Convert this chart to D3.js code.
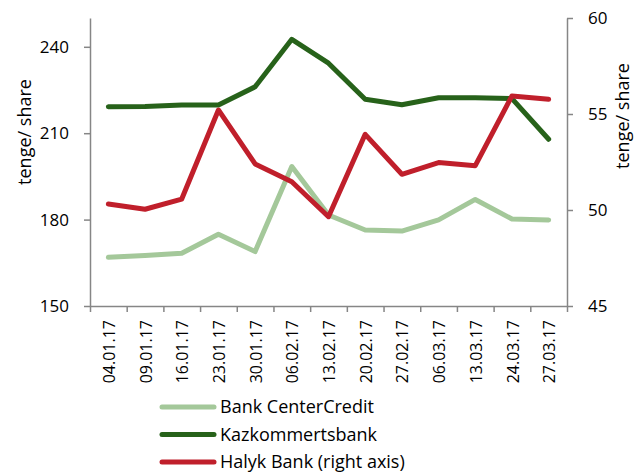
<!DOCTYPE html>
<html>
<head>
<meta charset="utf-8">
<script src="https://cdn.jsdelivr.net/npm/d3@7/dist/d3.min.js"></script>
<style>
  body { margin: 0; background: #fff; }
  svg text { font-family: "Open Sans", sans-serif; fill: #000; }
  .axis path, .axis line { stroke: #868686; stroke-width: 1.5; }
</style>
</head>
<body>
<div id="chart"></div>
<script>
// dates on the x axis
var dates = ["04.01.17", "09.01.17", "16.01.17", "23.01.17", "30.01.17", "06.02.17",
  "13.02.17", "20.02.17", "27.02.17", "06.03.17", "13.03.17", "24.03.17", "27.03.17"];

// left axis (tenge/share)
var centerCredit = [166.9, 167.5, 168.3, 174.9, 168.9, 198.4, 181.6, 176.4, 176.0, 179.9, 187.0, 180.2, 179.9];
var kazkom = [219.2, 219.3, 219.8, 219.8, 226.1, 242.6, 234.3, 221.8, 219.9, 222.3, 222.3, 222.0, 207.9];
// right axis
var halyk = [50.31, 50.04, 50.57, 55.21, 52.40, 51.47, 49.65, 53.94, 51.86, 52.47, 52.31, 55.94, 55.77];

var leftTicks = [150, 180, 210, 240];
var rightTicks = [45, 50, 55, 60];

var W = 641, H = 473,
  plotL = 90, plotR = 567, plotT = 18, plotB = 306;

var svg = d3.select("#chart").append("svg").attr("width", W).attr("height", H);

var x = d3.scaleBand().domain(dates).range([plotL, plotR]).padding(0);
var xEdge = d3.scaleLinear().domain([0, dates.length]).range([plotL, plotR]);
var yL = d3.scaleLinear().domain([150, 250]).range([plotB, plotT]);
var yR = d3.scaleLinear().domain([45, 60]).range([plotB, plotT]);

// axes
var gL = svg.append("g").attr("class", "axis").attr("transform", "translate(" + plotL + ",0)")
  .call(d3.axisLeft(yL).tickValues(leftTicks).tickSize(6).tickSizeOuter(0).tickPadding(15));
var gR = svg.append("g").attr("class", "axis").attr("transform", "translate(" + plotR + ",0)")
  .call(d3.axisRight(yR).tickValues(rightTicks).tickSize(6).tickSizeOuter(0).tickPadding(15));
var gE = svg.append("g").attr("class", "axis").attr("transform", "translate(0," + plotB + ")")
  .call(d3.axisBottom(xEdge).tickValues(d3.range(dates.length + 1)).tickFormat("").tickSize(6).tickSizeOuter(0));
var gX = svg.append("g").attr("class", "axis").attr("transform", "translate(0," + plotB + ")")
  .call(d3.axisBottom(x).tickSize(0).tickPadding(0));
gX.select(".domain").remove();
gX.selectAll("text")
  .attr("transform", "rotate(-90)")
  .attr("text-anchor", "end")
  .attr("x", -14)
  .attr("y", 1)
  .attr("dy", "0.35em")
  .style("font-size", "16px");

[gL, gR].forEach(function(g) {
  g.selectAll("text").style("font-size", "17px");
});

// axis titles
svg.append("text").attr("transform", "translate(25,132) rotate(-90)")
  .attr("text-anchor", "middle").attr("dy", "0.35em").style("font-size", "18px").text("tenge/ share");
svg.append("text").attr("transform", "translate(623,116) rotate(-90)")
  .attr("text-anchor", "middle").attr("dy", "0.35em").style("font-size", "18px").text("tenge/ share");

var cx = function(d, i) { return x(dates[i]) + x.bandwidth() / 2; };

var series = [
  { name: "Bank CenterCredit", values: centerCredit, y: yL, color: "#a4c89a" },
  { name: "Kazkommertsbank", values: kazkom, y: yL, color: "#27621a" },
  { name: "Halyk Bank (right axis)", values: halyk, y: yR, color: "#c01f2b" }
];

series.forEach(function(s) {
  var line = d3.line().x(cx).y(function(d) { return s.y(d); });
  svg.append("path").datum(s.values)
    .attr("d", line)
    .attr("fill", "none")
    .attr("stroke", s.color)
    .attr("stroke-width", 5)
    .attr("stroke-linejoin", "round")
    .attr("stroke-linecap", "round");
});

// legend
var lg = svg.append("g").selectAll("g").data(series).enter().append("g")
  .attr("transform", function(d, i) { return "translate(162," + (407 + i * 27.5) + ")"; });
lg.append("line").attr("x1", 0).attr("x2", 52).attr("y1", 0).attr("y2", 0)
  .attr("stroke", function(d) { return d.color; }).attr("stroke-width", 5)
  .attr("stroke-linecap", "round");
lg.append("text").attr("x", 58).attr("dy", "0.35em").style("font-size", "18px")
  .text(function(d) { return d.name; });
</script>
</body>
</html>
